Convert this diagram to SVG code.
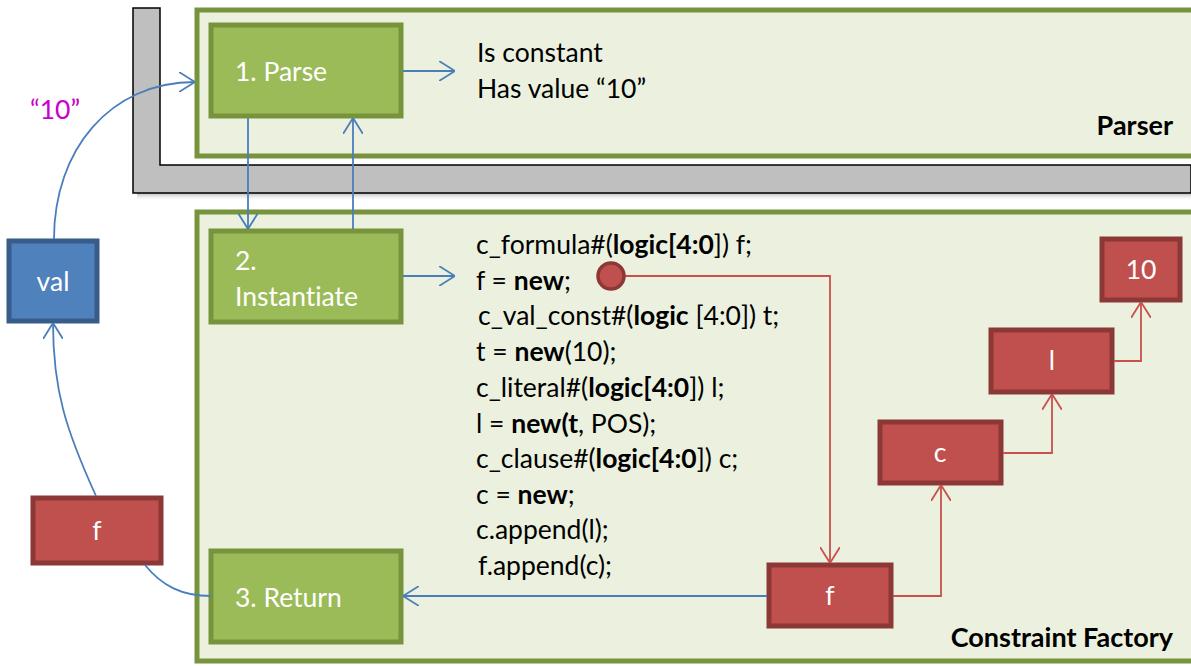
<svg xmlns="http://www.w3.org/2000/svg" width="1191" height="666" viewBox="0 0 1191 666">
<style>
.t{font-family:Lato,"Open Sans","Liberation Sans",sans-serif;font-variant-ligatures:none;}
.w{fill:#ffffff;font-size:26.5px;}
.code{fill:#000;font-size:26.5px;}
.b{font-weight:bold;}
.panel{fill:#EBF1DE;stroke:#77933C;stroke-width:5;}
.gbox{fill:#9BBB59;stroke:#77933C;stroke-width:5;}
.rbox{fill:#C0504D;stroke:#8C3836;stroke-width:5;}
.bbox{fill:#4F81BD;stroke:#385D8A;stroke-width:5;}
.bl{fill:none;stroke:#4A7EBB;stroke-width:1.8;}
.rl{fill:none;stroke:#C8504D;stroke-width:1.8;}
</style>
<defs>
<marker id="ab" viewBox="0 0 16 20" refX="16" refY="10" markerWidth="16" markerHeight="20" markerUnits="userSpaceOnUse" orient="auto">
<path d="M0,0 L16,10 L0,20" fill="none" stroke="#4A7EBB" stroke-width="1.8"/>
</marker>
<marker id="ar" viewBox="0 0 16 20" refX="16" refY="10" markerWidth="16" markerHeight="20" markerUnits="userSpaceOnUse" orient="auto">
<path d="M0,0 L16,10 L0,20" fill="none" stroke="#C8504D" stroke-width="1.8"/>
</marker>
<linearGradient id="sh" x1="0" y1="0" x2="0" y2="1">
<stop offset="0" stop-color="#888" stop-opacity="0.6"/>
<stop offset="1" stop-color="#fff" stop-opacity="0"/>
</linearGradient>
</defs>
<g id="bar">
<rect x="137" y="193" width="1054" height="8" fill="url(#sh)"/>
<polygon points="133,8 160,8 160,165 1191,165 1191,193 133,193" fill="#BFBFBF" stroke="#000" stroke-width="1.5"/>
</g>
<g id="parser">
<rect class="panel" x="197" y="10" width="1000" height="146"/>
<text class="t b" x="1173" y="135" font-size="27" text-anchor="end">Parser</text>
</g>
<g id="factory">
<rect class="panel" x="197" y="212" width="1000" height="449"/>
<text class="t b" x="1173" y="647" font-size="27" text-anchor="end">Constraint Factory</text>
</g>
<g id="parse">
<rect class="gbox" x="211" y="25" width="190" height="91"/>
<text class="t w" x="235" y="81">1. Parse</text>
</g>
<g id="instantiate">
<rect class="gbox" x="211" y="231" width="190" height="91"/>
<text class="t w" x="235" y="270">2.</text>
<text class="t w" x="235" y="306">Instantiate</text>
</g>
<g id="return">
<rect class="gbox" x="211" y="551" width="190" height="91"/>
<text class="t w" x="235" y="607">3. Return</text>
</g>
<g id="val">
<rect class="bbox" x="9" y="241" width="88" height="80"/>
<text class="t w" x="53" y="291" text-anchor="middle">val</text>
</g>
<g id="f-left">
<rect class="rbox" x="33" y="498" width="128" height="65"/>
<text class="t w" x="97" y="540" text-anchor="middle">f</text>
</g>
<g id="f-node">
<rect class="rbox" x="769" y="565" width="122" height="61"/>
<text class="t w" x="830" y="605" text-anchor="middle">f</text>
</g>
<g id="c-node">
<rect class="rbox" x="880" y="422" width="121" height="61"/>
<text class="t w" x="940" y="462" text-anchor="middle">c</text>
</g>
<g id="l-node">
<rect class="rbox" x="991" y="330" width="121" height="62"/>
<text class="t w" x="1052" y="370" text-anchor="middle">l</text>
</g>
<g id="ten-node">
<rect class="rbox" x="1102" y="239" width="78" height="61"/>
<text class="t w" x="1141" y="279" text-anchor="middle">10</text>
</g>
<g id="parse-out">
<text class="t code" x="477" y="62">Is constant</text>
<text class="t code" x="477" y="98">Has value “10”</text>
</g>
<g id="code">
<text class="t code" x="476" y="254">c_formula#(<tspan class="b">logic[4:0</tspan>]) f;</text>
<text class="t code" x="476" y="290">f = <tspan class="b">new</tspan>;</text>
<text class="t code" x="478" y="325">c_val_const#(<tspan class="b">logic</tspan> [4:0]) t;</text>
<text class="t code" x="476" y="361">t = <tspan class="b">new</tspan>(10);</text>
<text class="t code" x="476" y="397">c_literal#(<tspan class="b">logic[4:0</tspan>]) l;</text>
<text class="t code" x="476" y="433">l = <tspan class="b">new(t</tspan>, POS);</text>
<text class="t code" x="476" y="468">c_clause#(<tspan class="b">logic[4:0</tspan>]) c;</text>
<text class="t code" x="476" y="504">c = <tspan class="b">new</tspan>;</text>
<text class="t code" x="476" y="539">c.append(l);</text>
<text class="t code" x="478" y="575">f.append(c);</text>
</g>
<g id="label-10">
<text class="t" x="30" y="119" font-size="26.5" fill="#CC00CC">“10”</text>
</g>
<g id="connectors">
<path class="bl" d="M54,239 C54,150 110,82 195,82" marker-end="url(#ab)"/>
<path class="bl" d="M403,71 L455,71" marker-end="url(#ab)"/>
<path class="bl" d="M248,118 L248,229" marker-end="url(#ab)"/>
<path class="bl" d="M353,229 L353,118" marker-end="url(#ab)"/>
<path class="bl" d="M403,276 L455,276" marker-end="url(#ab)"/>
<path class="bl" d="M767,596 L403,596" marker-end="url(#ab)"/>
<path class="bl" d="M211,596 C182,596 162,586 145,565"/>
<path class="bl" d="M96,496 C66,430 53,390 53,323" marker-end="url(#ab)"/>
<path class="rl" d="M625,276 L830,276 L830,563" marker-end="url(#ar)"/>
<path class="rl" d="M893,596 L941,596 L941,485" marker-end="url(#ar)"/>
<path class="rl" d="M1003,453 L1052,453 L1052,394" marker-end="url(#ar)"/>
<path class="rl" d="M1114,361 L1141,361 L1141,302" marker-end="url(#ar)"/>
<circle cx="611" cy="276" r="13" fill="#C0504D" stroke="#8C3836" stroke-width="3.5"/>
</g>
</svg>
